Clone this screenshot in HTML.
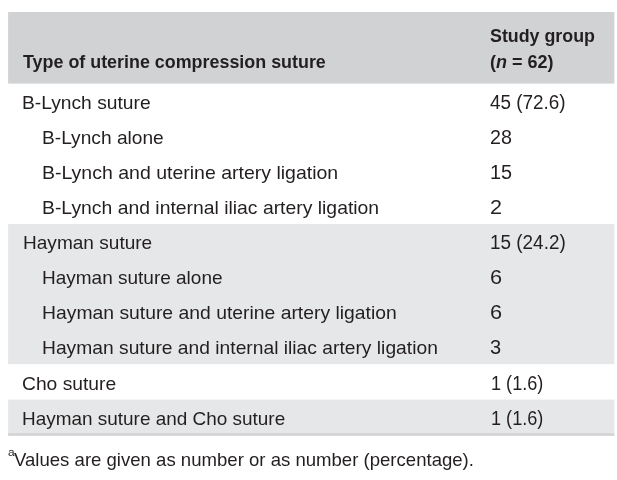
<!DOCTYPE html>
<html lang="en">
<head>
<meta charset="utf-8">
<title>Type of uterine compression suture</title>
<style>
html,body{margin:0;padding:0;background:#fff;}
body{width:617px;height:480px;overflow:hidden;position:relative;font-family:"Liberation Sans",Arial,sans-serif;color:#231f20;font-size:19.0px;}
table{position:absolute;left:8px;top:12px;width:606.4px;border-collapse:collapse;border-spacing:0;table-layout:fixed;}
col.c1{width:467px}
th,td{padding:0;margin:0;text-align:left;vertical-align:top;white-space:nowrap;overflow:visible;font-weight:400;}
thead th{height:71.7px;font-weight:700;font-size:19.0px;line-height:26px;}
thead th .t{position:relative;}
thead th.h1{padding-top:36.4px;height:35.3px}
thead th.h2{padding-top:10.4px;height:61.3px}
tbody td{height:35px;line-height:35px;}
tbody tr.r9 td{height:35.5px}
tbody tr.last td{height:36.3px;}
svg.bg{position:absolute;left:0;top:0;width:617px;height:480px;}
.t{display:inline-block;transform-origin:0 50%;position:relative;top:1px;white-space:nowrap;}
.t.n{transform-origin:0 69%;}
tbody tr.r9 .t{top:2px} tbody tr.last .t{top:2px}
thead .t{top:1px} .fn .t{top:0}
.fn{position:absolute;left:0;top:445px;margin:0;line-height:30px;white-space:nowrap;}
.fn sup{font-size:11.5px;line-height:0;vertical-align:baseline;position:relative;top:-9.8px;display:inline-block;transform-origin:0 50%;}
</style>
</head>
<body>
<svg class="bg" width="617" height="480" viewBox="0 0 617 480" aria-hidden="true">
<rect x="8.1" y="12" width="606.25" height="71.6" fill="#d1d2d4"/>
<rect x="8.1" y="224" width="606.25" height="140.15" fill="#e6e7e8"/>
<rect x="8.1" y="399.6" width="606.25" height="33.8" fill="#e6e7e8"/>
<rect x="8.1" y="433.2" width="606.25" height="2.6" fill="#d1d2d4"/>
</svg>
<table>
<colgroup><col class="c1"><col class="c2"></colgroup>
<thead>
<tr><th class="h1"><span class="t" id="h1" style="margin-left:14.59px;transform:scaleX(0.9414)">Type of uterine compression suture</span></th><th class="h2"><span class="t" id="h2a" style="margin-left:14.91px;transform:scaleX(0.9382)">Study group</span><br><span class="t" id="h2b" style="margin-left:14.82px;transform:scaleX(0.9482)">(<i>n</i> = 62)</span></th></tr>
</thead>
<tbody>
<tr><td><span class="t" id="a0" style="margin-left:14.26px;transform:scaleX(1.0119)">B-Lynch suture</span></td><td><span class="t n" id="b0" style="margin-left:15.16px;transform:scale(0.9940,1.06)">45 (72.6)</span></td></tr>
<tr><td><span class="t" id="a1" style="margin-left:33.60px;transform:scaleX(1.0083)">B-Lynch alone</span></td><td><span class="t n" id="b1" style="margin-left:15.00px;transform:scale(1.0391,1.06)">28</span></td></tr>
<tr><td><span class="t" id="a2" style="margin-left:33.59px;transform:scaleX(1.0260)">B-Lynch and uterine artery ligation</span></td><td><span class="t n" id="b2" style="margin-left:15.00px;transform:scale(1.0435,1.06)">15</span></td></tr>
<tr><td><span class="t" id="a3" style="margin-left:33.68px;transform:scaleX(1.0187)">B-Lynch and internal iliac artery ligation</span></td><td><span class="t n" id="b3" style="margin-left:14.80px;transform:scale(1.1382,1.06)">2</span></td></tr>
<tr class="g"><td><span class="t" id="a4" style="margin-left:14.90px;transform:scaleX(1.0030)">Hayman suture</span></td><td><span class="t n" id="b4" style="margin-left:15.43px;transform:scale(0.9955,1.06)">15 (24.2)</span></td></tr>
<tr class="g"><td><span class="t" id="a5" style="margin-left:34.04px;transform:scaleX(0.9996)">Hayman suture alone</span></td><td><span class="t n" id="b5" style="margin-left:14.51px;transform:scale(1.1427,1.06)">6</span></td></tr>
<tr class="g"><td><span class="t" id="a6" style="margin-left:34.31px;transform:scaleX(1.0178)">Hayman suture and uterine artery ligation</span></td><td><span class="t n" id="b6" style="margin-left:14.51px;transform:scale(1.1427,1.06)">6</span></td></tr>
<tr class="g"><td><span class="t" id="a7" style="margin-left:34.49px;transform:scaleX(1.0130)">Hayman suture and internal iliac artery ligation</span></td><td><span class="t n" id="b7" style="margin-left:14.97px;transform:scale(1.0550,1.06)">3</span></td></tr>
<tr class="r9"><td><span class="t" id="a8" style="margin-left:14.00px;transform:scaleX(1.0136)">Cho suture</span></td><td><span class="t n" id="b8" style="margin-left:15.88px;transform:scale(0.9529,1.06)">1 (1.6)</span></td></tr>
<tr class="g last"><td><span class="t" id="a9" style="margin-left:14.48px;transform:scaleX(0.9967)">Hayman suture and Cho suture</span></td><td><span class="t n" id="b9" style="margin-left:15.52px;transform:scale(0.9538,1.06)">1 (1.6)</span></td></tr>
</tbody>
</table>
<p class="fn"><sup id="fa" style="margin-left:7.69px;transform:scaleX(1.0317)">a</sup><span class="t" id="fn" style="margin-left:-0.33px;transform:scaleX(0.9772)">Values are given as number or as number (percentage).</span></p>
</body>
</html>
